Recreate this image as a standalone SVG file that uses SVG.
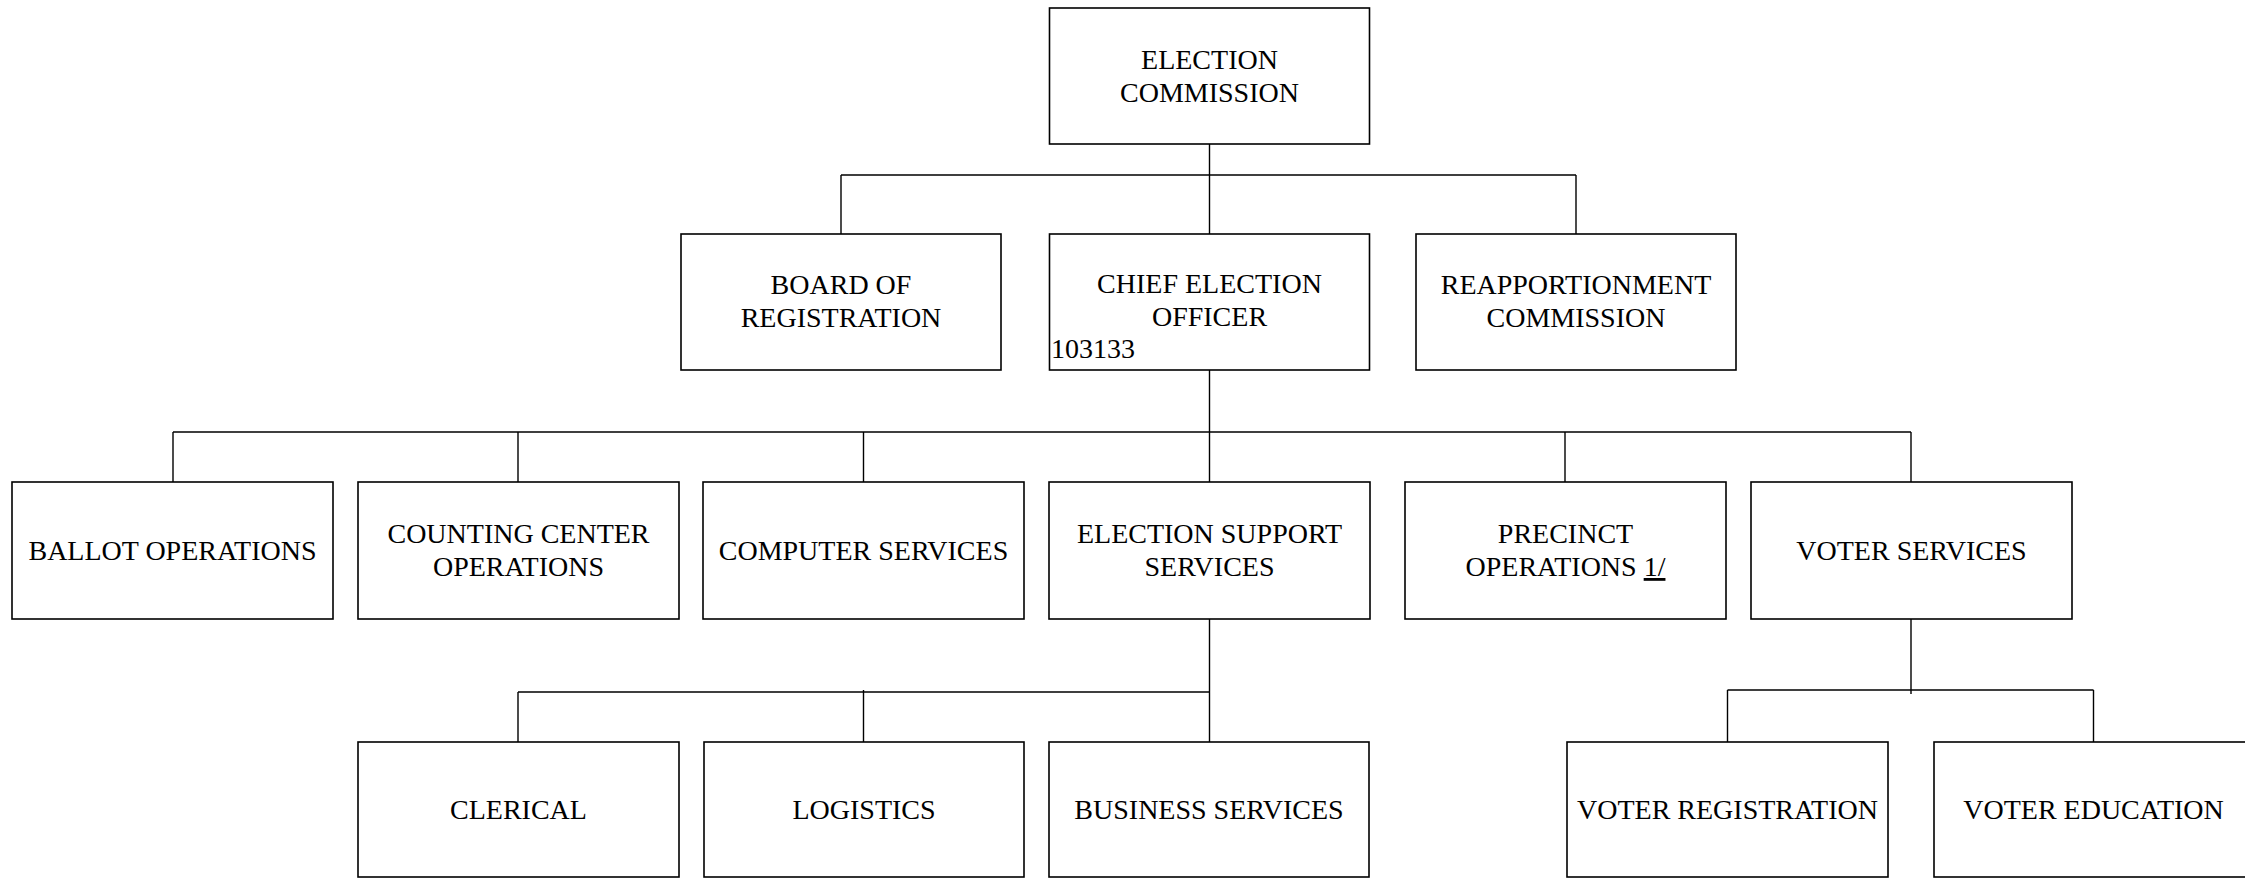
<svg xmlns="http://www.w3.org/2000/svg" width="2245" height="878" viewBox="0 0 2245 878">
<style>
.box{fill:#fff;stroke:#000;stroke-width:1.6}
.ln{stroke:#000;stroke-width:1.4;fill:none}
text{font-family:"Liberation Serif","Times New Roman",serif;font-size:28px;fill:#000;text-anchor:middle}
.l{text-anchor:start}
</style>
<rect width="2245" height="878" fill="#fff"/>
<g id="connectors">
<path class="ln" d="M1209.5 144V234M841 175H1576M841 175V234M1576 175V234"/>
<path class="ln" d="M1209.5 370V482M173 432H1911M173 432V482M518 432V482M863.5 432V482M1565 432V482M1911 432V482"/>
<path class="ln" d="M1209.5 619V742M518 692H1209.5M518 692V742M863.5 690V742"/>
<path class="ln" d="M1911 619V694M1727.5 690H2093.5M1727.5 690V742M2093.5 690V742"/>
</g>
<g id="election-commission"><rect class="box" x="1049.5" y="8" width="320" height="136"/><text x="1209.5" y="69">ELECTION</text><text x="1209.5" y="102">COMMISSION</text></g>
<g id="board-of-registration"><rect class="box" x="681" y="234" width="320" height="136"/><text x="841" y="294">BOARD OF</text><text x="841" y="327">REGISTRATION</text></g>
<g id="chief-election-officer"><rect class="box" x="1049.5" y="234" width="320" height="136"/><text x="1209.5" y="293">CHIEF ELECTION</text><text x="1209.5" y="326">OFFICER</text><text class="l" x="1051" y="358">103133</text></g>
<g id="reapportionment-commission"><rect class="box" x="1416" y="234" width="320" height="136"/><text x="1576" y="294">REAPPORTIONMENT</text><text x="1576" y="327">COMMISSION</text></g>
<g id="ballot-operations"><rect class="box" x="12" y="482" width="321" height="137"/><text x="172.5" y="560">BALLOT OPERATIONS</text></g>
<g id="counting-center-operations"><rect class="box" x="358" y="482" width="321" height="137"/><text x="518.5" y="543">COUNTING CENTER</text><text x="518.5" y="576">OPERATIONS</text></g>
<g id="computer-services"><rect class="box" x="703" y="482" width="321" height="137"/><text x="863.5" y="560">COMPUTER SERVICES</text></g>
<g id="election-support-services"><rect class="box" x="1049" y="482" width="321" height="137"/><text x="1209.5" y="543">ELECTION SUPPORT</text><text x="1209.5" y="576">SERVICES</text></g>
<g id="precinct-operations"><rect class="box" x="1405" y="482" width="321" height="137"/><text x="1565.5" y="543">PRECINCT</text><text x="1565.5" y="576">OPERATIONS <tspan text-decoration="underline">1/</tspan></text></g>
<g id="voter-services"><rect class="box" x="1751" y="482" width="321" height="137"/><text x="1911.5" y="560">VOTER SERVICES</text></g>
<g id="clerical"><rect class="box" x="358" y="742" width="321" height="135"/><text x="518.5" y="819">CLERICAL</text></g>
<g id="logistics"><rect class="box" x="704" y="742" width="320" height="135"/><text x="864" y="819">LOGISTICS</text></g>
<g id="business-services"><rect class="box" x="1049" y="742" width="320" height="135"/><text x="1209" y="819">BUSINESS SERVICES</text></g>
<g id="voter-registration"><rect class="box" x="1567" y="742" width="321" height="135"/><text x="1727.5" y="819">VOTER REGISTRATION</text></g>
<g id="voter-education"><rect class="box" x="1934" y="742" width="321" height="135"/><text x="2093.5" y="819">VOTER EDUCATION</text></g>
</svg>
